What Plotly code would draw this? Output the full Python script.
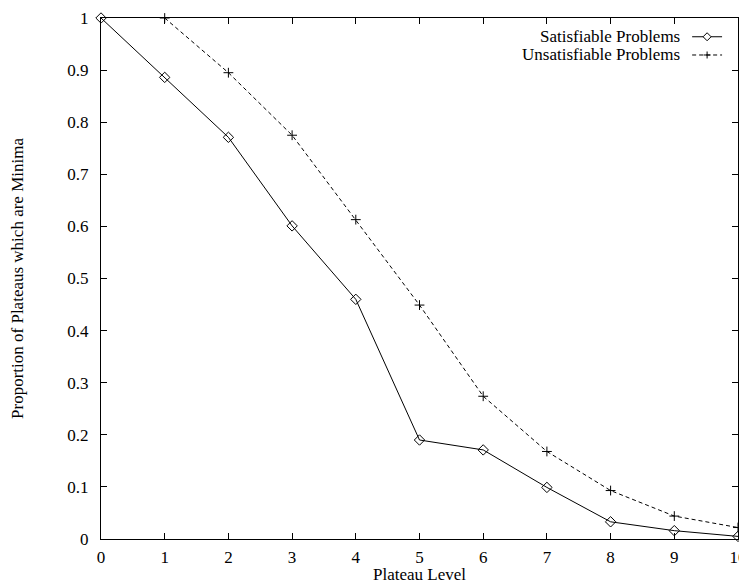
import plotly.graph_objects as go

levels = [0, 1, 2, 3, 4, 5, 6, 7, 8, 9, 10]
sat_values = [1.0, 0.886, 0.771, 0.601, 0.460, 0.190, 0.171, 0.099, 0.033, 0.016, 0.005]
unsat_levels = [1, 2, 3, 4, 5, 6, 7, 8, 9, 10]
unsat_values = [1.0, 0.895, 0.775, 0.613, 0.449, 0.274, 0.168, 0.093, 0.044, 0.022]
series_names = ["Satisfiable Problems", "Unsatisfiable Problems"]
x_ticks = list(range(0, 11))
y_ticks = [0, 0.1, 0.2, 0.3, 0.4, 0.5, 0.6, 0.7, 0.8, 0.9, 1]

FONT = "Liberation Serif"
FS = 17

fig = go.Figure()
fig.add_trace(go.Scatter(
    x=levels, y=sat_values, mode="lines+markers", name=series_names[0],
    line=dict(color="black", width=1),
    marker=dict(symbol="diamond-open", size=8, color="black", line=dict(width=1, color="black")),
    showlegend=False, cliponaxis=False,
))
fig.add_trace(go.Scatter(
    x=unsat_levels, y=unsat_values, mode="lines+markers", name=series_names[1],
    line=dict(color="black", width=1, dash="4px,3px"),
    marker=dict(symbol="cross-thin", size=7, color="black", line=dict(width=1, color="black")),
    showlegend=False, cliponaxis=False,
))

# Custom gnuplot-style legend (text right, sample on right)
W, H = 637.0, 521.0
text_x = 0.912
lx0, lx1, lxc = 0.928, 0.975, 0.9515
rows = [0.964, 0.929]
for i, name in enumerate(series_names):
    fig.add_annotation(x=text_x, y=rows[i], xref="paper", yref="paper", text=name,
                       showarrow=False, xanchor="right", yanchor="middle",
                       font=dict(family=FONT, size=FS, color="black"))
fig.add_shape(type="line", xref="paper", yref="paper", x0=lx0, x1=lx1, y0=rows[0], y1=rows[0],
              line=dict(color="black", width=1))
dx, dy = 4 / W, 4 / H
fig.add_shape(type="path", xref="paper", yref="paper",
              path=f"M {lxc-dx} {rows[0]} L {lxc} {rows[0]+dy} L {lxc+dx} {rows[0]} L {lxc} {rows[0]-dy} Z",
              line=dict(color="black", width=1), fillcolor="white")
fig.add_shape(type="line", xref="paper", yref="paper", x0=lx0, x1=lx1, y0=rows[1], y1=rows[1],
              line=dict(color="black", width=1, dash="4px,3px"))
cx, cy = 3.5 / W, 3.5 / H
fig.add_shape(type="line", xref="paper", yref="paper", x0=lxc - cx, x1=lxc + cx, y0=rows[1], y1=rows[1],
              line=dict(color="black", width=1))
fig.add_shape(type="line", xref="paper", yref="paper", x0=lxc, x1=lxc, y0=rows[1] - cy, y1=rows[1] + cy,
              line=dict(color="black", width=1))

axis_common = dict(
    showline=True, linecolor="black", linewidth=1, mirror="ticks",
    ticks="inside", ticklen=6, tickcolor="black", tickwidth=1,
    showgrid=False, zeroline=False, automargin=False,
    tickfont=dict(family=FONT, size=FS, color="black"),
)
fig.update_xaxes(range=[0, 10], tickvals=x_ticks, ticktext=[str(v) for v in x_ticks],
                 ticklabelstandoff=3,
                 title=dict(text="Plateau Level", font=dict(family=FONT, size=FS, color="black"), standoff=13),
                 **axis_common)
fig.update_yaxes(range=[0, 1], tickvals=y_ticks, ticktext=[("%g" % v) for v in y_ticks],
                 ticklabelstandoff=8,
                 title=dict(text="Proportion of Plateaus which are Minima",
                            font=dict(family=FONT, size=FS, color="black"), standoff=39),
                 **axis_common)

# page body has an 8px default margin, so the figure is sized to fit the window
fig.update_layout(
    width=739, height=576,
    margin=dict(l=93, r=9, t=10, b=45),
    plot_bgcolor="white", paper_bgcolor="white",
    font=dict(family=FONT, size=FS, color="black"),
)

fig.write_html("out.html")
